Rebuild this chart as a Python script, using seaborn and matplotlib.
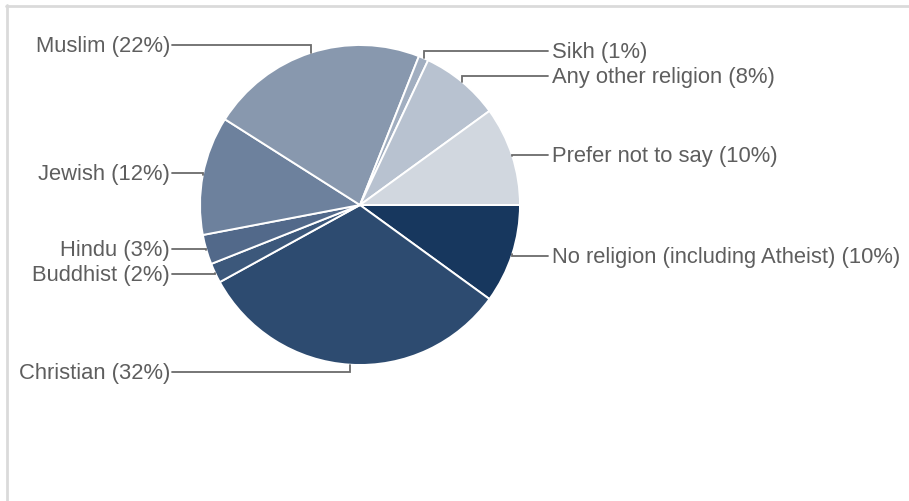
import matplotlib.pyplot as plt
import seaborn as sns
import numpy as np

# slices, clockwise from 3 o'clock
religions = ['No religion (including Atheist)', 'Christian', 'Buddhist', 'Hindu',
             'Jewish', 'Muslim', 'Sikh', 'Any other religion', 'Prefer not to say']
shares = [10, 32, 2, 3, 12, 22, 1, 8, 10]
colors = ['#17375e', '#2d4b70', '#3c587b', '#52698a', '#6d819d',
          '#8898ae', '#a1aec0', '#b8c2d0', '#d1d7df']

# label layout (pixel positions)
label_side = ['right', 'left', 'left', 'left', 'left', 'left', 'right', 'right', 'right']
label_y = [256, 372, 274, 249, 173, 45, 51, 76, 155]

sns.set_theme(style='white')
plt.rcParams['font.family'] = ['Liberation Sans', 'DejaVu Sans']

fig = plt.figure(figsize=(9.09, 5.01), dpi=100)
ax = fig.add_axes([0, 0, 1, 1])

cx, cy, r = 360, 205, 160
wedges, _ = ax.pie(shares, colors=colors, startangle=0, counterclock=True,
                   center=(cx, cy), radius=r, frame=True,
                   wedgeprops=dict(edgecolor='white', linewidth=1.4))

ax.set_xlim(0, 909)
ax.set_ylim(501, 0)
ax.set_axis_off()

line_col = '#6b6b6b'
text_col = '#5e5e5e'
total = sum(shares)
cum = np.cumsum([0] + shares[:-1])
for name, val, start, side, ly in zip(religions, shares, cum, label_side, label_y):
    mid = np.deg2rad((start + val / 2) / total * 360)
    px = cx + r * np.cos(mid)
    py = cy + r * np.sin(mid)
    label = f'{name} ({val}%)'
    if side == 'right':
        ax.plot([px, px, 548], [py, ly, ly], color=line_col, lw=1.3,
                solid_joinstyle='miter')
        ax.text(552, ly + 1.5, label, ha='left', va='center', fontsize=15.8, color=text_col)
    else:
        ax.plot([px, px, 172], [py, ly, ly], color=line_col, lw=1.3,
                solid_joinstyle='miter')
        ax.text(170, ly + 1.5, label, ha='right', va='center', fontsize=15.8, color=text_col)

# light frame on top and left
ax.plot([6, 909], [5.5, 5.5], color='#dadada', lw=2, clip_on=False)
ax.plot([6.5, 6.5], [5, 501], color='#dadada', lw=2, clip_on=False)

plt.savefig('out.png', dpi=100)
